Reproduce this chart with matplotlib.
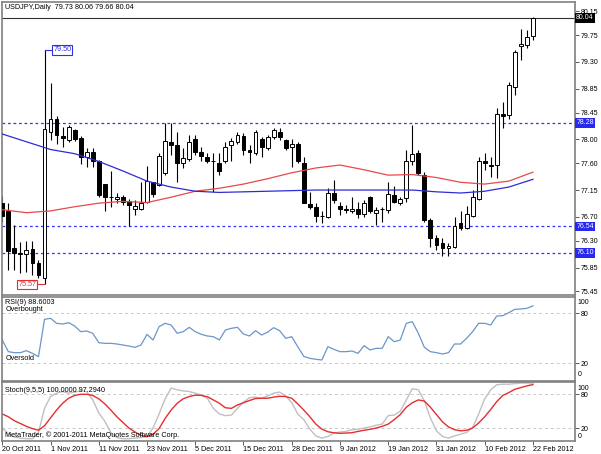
import numpy as np
import matplotlib
matplotlib.use("Agg")
import matplotlib.pyplot as plt

plt.rcParams['font.family'] = ['Liberation Sans', 'DejaVu Sans']

#---data (USDJPY daily, 20 Oct 2011 .. 22 Feb 2012)
opens = [76.93, 76.79, 76.17, 76.09, 76.08, 76.16, 75.92, 75.67, 78.13, 78.35,
         78.06, 77.99, 78.16, 78.03, 77.70, 77.79, 77.63, 77.25, 77.04, 77.00,
         77.03, 76.97, 76.83, 76.84, 76.95, 77.28, 77.23, 77.43, 77.96, 77.91,
         77.60, 77.67, 78.00, 77.79, 77.70, 77.64, 77.61, 77.63, 77.91, 77.96,
         78.05, 77.82, 77.77, 78.00, 77.85, 78.04, 78.13, 77.99, 77.87, 77.93,
         77.60, 76.92, 76.86, 76.72, 76.69, 77.10, 76.88, 76.83, 76.80, 76.84,
         76.75, 77.04, 76.76, 76.83, 76.82, 77.06, 76.93, 77.01, 77.64, 77.77,
         77.40, 76.65, 76.34, 76.26, 76.18, 76.20, 76.59, 76.51, 76.72, 77.00,
         77.63, 77.57, 77.57, 78.43, 78.41, 78.88, 79.57, 79.58, 79.73]
highs = [77.05, 76.93, 76.56, 76.28, 76.30, 76.30, 75.98, 79.50, 78.95, 78.39,
         78.21, 78.24, 78.17, 78.06, 77.85, 77.85, 77.65, 77.25, 77.47, 77.10,
         77.07, 77.00, 76.98, 77.29, 77.56, 77.29, 77.77, 78.28, 78.28, 78.13,
         77.85, 78.07, 78.07, 77.88, 77.77, 77.77, 77.77, 77.96, 78.02, 78.13,
         78.10, 77.91, 78.15, 78.04, 78.07, 78.19, 78.19, 78.00, 78.00, 77.96,
         77.71, 77.12, 76.93, 76.79, 77.18, 77.32, 76.95, 76.90, 77.03, 76.95,
         76.98, 77.05, 76.86, 76.87, 77.29, 77.21, 77.04, 77.82, 78.24, 77.82,
         77.46, 76.68, 76.40, 76.34, 76.26, 76.70, 76.79, 76.88, 77.15, 77.71,
         77.77, 77.71, 78.52, 78.62, 78.97, 79.50, 79.85, 79.84, 80.06]
lows = [76.61, 75.81, 75.81, 75.75, 75.78, 75.72, 75.67, 75.57, 77.99, 77.93,
        77.88, 77.96, 77.97, 77.59, 77.53, 77.53, 77.04, 76.79, 76.87, 76.93,
        76.90, 76.54, 76.73, 76.82, 76.93, 77.04, 77.22, 77.40, 77.74, 77.29,
        77.52, 77.63, 77.74, 77.63, 77.60, 77.12, 77.40, 77.60, 77.63, 77.93,
        77.74, 77.60, 77.74, 77.71, 77.82, 78.00, 77.99, 77.83, 77.54, 77.60,
        76.93, 76.84, 76.62, 76.59, 76.68, 76.93, 76.73, 76.76, 76.76, 76.68,
        76.69, 76.76, 76.56, 76.62, 76.76, 76.93, 76.90, 76.95, 77.57, 77.40,
        76.62, 76.20, 76.14, 76.05, 76.04, 76.17, 76.48, 76.49, 76.70, 76.98,
        77.49, 77.37, 77.35, 78.19, 78.35, 78.75, 79.34, 79.53, 79.66]
closes = [76.71, 76.12, 76.10, 76.08, 76.14, 75.93, 75.72, 78.17, 78.34, 78.07,
          78.03, 78.21, 78.00, 77.70, 77.79, 77.64, 77.07, 77.04, 77.03, 77.04,
          76.95, 76.90, 76.88, 76.93, 77.30, 77.08, 77.72, 77.98, 77.91, 77.60,
          77.68, 77.96, 77.79, 77.72, 77.64, 77.63, 77.47, 77.88, 77.98, 78.07,
          77.82, 77.78, 78.13, 77.88, 78.04, 78.16, 78.04, 77.85, 77.93, 77.63,
          76.94, 76.87, 76.72, 76.71, 77.10, 76.98, 76.83, 76.82, 76.84, 76.75,
          76.94, 76.79, 76.82, 76.83, 77.08, 76.95, 77.00, 77.63, 77.76, 77.43,
          76.65, 76.34, 76.23, 76.18, 76.21, 76.54, 76.52, 76.75, 77.03, 77.63,
          77.60, 77.55, 78.42, 78.40, 78.91, 79.47, 79.60, 79.71, 80.04]

# moving averages, read every 4th bar
ma_bars = list(range(0, 89, 4))
red_ma = [76.82, 76.77, 76.80, 76.87, 76.93, 76.96, 76.94, 77.03, 77.13, 77.18,
          77.25, 77.34, 77.44, 77.52, 77.57, 77.49, 77.40, 77.41, 77.36, 77.28,
          77.25, 77.30, 77.45]
blue_ma = [78.09, 77.96, 77.83, 77.76, 77.63, 77.47, 77.30, 77.20, 77.13, 77.11,
           77.12, 77.13, 77.14, 77.15, 77.15, 77.15, 77.15, 77.15, 77.12, 77.10,
           77.13, 77.20, 77.33]

rsi = [47.6, 33.6, 32.4, 32.4, 34.8, 31.6, 27.6, 72.4, 73.6, 67.6,
       66.8, 68.4, 64.4, 57.6, 58.4, 55.6, 44.4, 43.6, 43.6, 42.8,
       41.6, 40.4, 38.8, 41.6, 54.4, 47.6, 63.6, 67.6, 65.6, 55.6,
       57.6, 62.8, 57.6, 54.4, 52.4, 51.6, 47.6, 59.6, 61.6, 62.8,
       54.8, 52.4, 58.8, 53.6, 57.0, 62.4, 58.8, 49.6, 51.6, 39.6,
       28.0, 25.6, 24.5, 23.6, 39.6, 36.4, 33.6, 33.6, 34.4, 31.6,
       40.8, 35.6, 37.6, 37.6, 51.6, 45.6, 47.6, 67.6, 69.6, 55.6,
       38.8, 33.6, 32.4, 30.8, 32.4, 42.8, 42.8, 49.6, 57.6, 67.6,
       67.6, 65.6, 76.4, 76.8, 80.4, 84.4, 84.8, 85.6, 88.6]

sto_main = [20, 10, 4, 2, 1, 1, 12, 55, 76, 82,
            85, 82, 84, 86, 85, 70, 47, 32, 12, 3,
            1, 1, 2, 3, 5, 20, 45, 72, 91, 88,
            86, 85, 82, 79, 73, 55, 45, 42, 43, 55,
            66, 74, 75, 73, 77, 82, 84, 77, 65, 45,
            35, 18, 6, 2, 5, 11, 13, 14, 17, 18,
            20, 22, 25, 27, 42, 43, 50, 70, 90, 88,
            68, 38, 15, 5, 2, 6, 9, 12, 21, 45,
            72, 88, 97, 98, 98, 99, 100, 100, 100]
sto_sig = [45, 40, 33, 28, 23, 19, 16, 24, 38, 52,
           64, 73, 78, 80, 80, 78, 72, 63, 52, 40,
           30, 20, 13, 7, 4.5, 9, 19, 37, 52, 64,
           72, 76, 78.5, 78, 75.7, 70, 64, 56, 55, 61,
           65, 69, 72.5, 73, 73, 75, 76.5, 76, 73, 63,
           52, 40, 27, 18, 13.4, 11.5, 10.6, 11, 11.7, 14,
           16, 17.7, 20, 23, 27, 35, 44, 57, 65, 70,
           68, 57, 44, 31, 22, 17, 15, 16, 20, 29,
           40, 53, 67, 78, 83, 89, 92, 95, 97.3]

levels = [78.28, 76.54, 76.10]
price_ticks = [80.15, 79.75, 79.30, 78.85, 78.45, 78.00, 77.60, 77.15, 76.70, 76.30, 75.85, 75.45]
date_bars = list(range(0, 89, 8))
date_labels = ['20 Oct 2011', '1 Nov 2011', '11 Nov 2011', '23 Nov 2011', '5 Dec 2011',
               '15 Dec 2011', '28 Dec 2011', '9 Jan 2012', '19 Jan 2012', '31 Jan 2012',
               '10 Feb 2012', '22 Feb 2012']

#---figure / panel geometry in pixels
W, H = 601, 454
fig = plt.figure(figsize=(W / 100, H / 100), dpi=100)
fig.patch.set_facecolor('white')

def px_rect(x0, y0, x1, y1):
    return [x0 / W, 1 - y1 / H, (x1 - x0) / W, (y1 - y0) / H]

XL = (-0.05, 94.98)
FS = 5.2
frame = '#808080'
idx = np.arange(len(opens))

ax = fig.add_axes(px_rect(2, 2, 575, 295))
ax_rsi = fig.add_axes(px_rect(2, 296.5, 575, 380.5))
ax_sto = fig.add_axes(px_rect(2, 382, 575, 440.5))

for a in (ax, ax_rsi, ax_sto):
    a.set_xlim(*XL)
    for s in a.spines.values():
        s.set_color(frame)
        s.set_linewidth(1.2)
    a.yaxis.tick_right()
    a.tick_params(axis='y', length=3, width=0.6, color='#404040', labelsize=FS - 0.2, pad=1)
    a.set_xticks([])

#---main price panel
ax.set_ylim(75.389, 80.305)
o = np.array(opens); c = np.array(closes)
hi = np.array(highs); lo = np.array(lows)
up = c >= o
ax.vlines(idx, lows, highs, color='black', lw=0.8, zorder=2)
body_h = np.maximum(np.abs(c - o), 0.008)
ax.bar(idx, body_h, bottom=np.minimum(o, c), width=0.64,
       color=np.where(up, 'white', 'black'), edgecolor='black', linewidth=0.7, zorder=3)

ax.plot(ma_bars, red_ma, color='#e8484c', lw=0.9, zorder=4)
ax.plot(ma_bars, blue_ma, color='#2c2cd8', lw=0.9, zorder=4)

for lv in levels:
    ax.axhline(lv, color='#3434ff', lw=0.9, ls=(0, (2.2, 2.2)), zorder=1)
ax.axhline(closes[-1], color='#303030', lw=0.8, zorder=1)

ax.set_yticks(price_ticks)
ax.set_yticklabels([f'{v:.2f}' for v in price_ticks])

ytr = ax.get_yaxis_transform()
for lv in levels:
    ax.text(1.002, lv, f'{lv:.2f}', transform=ytr, fontsize=FS - 0.2, color='white',
            va='center', ha='left', bbox=dict(boxstyle='square,pad=0.2', fc='#2828f0', ec='none'))
ax.text(1.002, closes[-1], f'{closes[-1]:.2f}', transform=ytr, fontsize=FS - 0.2, color='white',
        va='center', ha='left', bbox=dict(boxstyle='square,pad=0.2', fc='black', ec='none'))

# high / low markers on the widest-range bar
mk = int(np.argmax(hi - lo))
ax.plot([mk, mk + 1.4], [highs[mk]] * 2, color='#3030e0', lw=0.8, zorder=4)
ax.text(mk + 1.45, highs[mk], f'{highs[mk]:.2f}', color='#3030e0', fontsize=FS,
        va='center', ha='left', zorder=5,
        bbox=dict(boxstyle='square,pad=0.15', fc='white', ec='#3030e0', lw=0.8))
ax.plot([mk - 1.3, mk], [lows[mk]] * 2, color='#e03030', lw=0.8, zorder=4)
ax.text(mk - 1.35, lows[mk], f'{lows[mk]:.2f}', color='#e03030', fontsize=FS,
        va='center', ha='right', zorder=5,
        bbox=dict(boxstyle='square,pad=0.15', fc='white', ec='#e03030', lw=0.8))

ax.text(0.005, 0.982, f'USDJPY,Daily  {opens[-1]:.2f} {highs[-1]:.2f} {lows[-1]:.2f} {closes[-1]:.2f}',
        transform=ax.transAxes, fontsize=FS, va='center', ha='left')

#---RSI panel
ax_rsi.set_ylim(-1.0, 99.8)
for lv in (80, 20):
    ax_rsi.axhline(lv, color='#c8c8c8', lw=0.7, ls=(0, (3, 3)))
ax_rsi.plot(idx, rsi, color='#6a96c8', lw=0.9)
ax_rsi.set_yticks([80, 20])
ax_rsi.set_yticklabels(['80', '20'])
rtr = ax_rsi.get_yaxis_transform()
ax_rsi.text(1.004, 93.2, '100', transform=rtr, fontsize=FS - 0.2, va='center', ha='left')
ax_rsi.text(1.004, 5.6, '0', transform=rtr, fontsize=FS - 0.2, va='center', ha='left')
ax_rsi.text(0.006, 92.3, f'RSI(9) {88.6003:.4f}', transform=rtr, fontsize=FS, va='center', ha='left')
ax_rsi.text(0.006, 84.0, 'Overbought', transform=rtr, fontsize=FS, va='center', ha='left')
ax_rsi.text(0.006, 25.0, 'Oversold', transform=rtr, fontsize=FS, va='center', ha='left')

#---Stochastic panel
ax_sto.set_ylim(-2.2, 101.9)
for lv in (80, 20):
    ax_sto.axhline(lv, color='#c8c8c8', lw=0.7, ls=(0, (3, 3)))
ax_sto.plot(idx, sto_main, color='#c0c0c0', lw=1.0)
ax_sto.plot(idx, sto_sig, color='#e62e2e', lw=1.0)
ax_sto.set_yticks([80, 20])
ax_sto.set_yticklabels(['80', '20'])
str_ = ax_sto.get_yaxis_transform()
ax_sto.text(1.004, 91.2, '100', transform=str_, fontsize=FS - 0.2, va='center', ha='left')
ax_sto.text(1.004, 5.8, '0', transform=str_, fontsize=FS - 0.2, va='center', ha='left')
ax_sto.text(0.006, 86.0, 'Stoch(9,5,5) 100.0000 97.2940', transform=str_, fontsize=FS, va='center', ha='left')
ax_sto.text(0.006, 7.5, 'MetaTrader, \u00a9 2001-2011 MetaQuotes Software Corp.', transform=str_,
            fontsize=FS, va='center', ha='left')

ax_sto.set_xticks(date_bars)
ax_sto.set_xticklabels(date_labels, ha='left')
ax_sto.tick_params(axis='x', length=3, width=0.6, color='#404040', labelsize=FS, pad=1)

plt.savefig('out.png', dpi=100)
